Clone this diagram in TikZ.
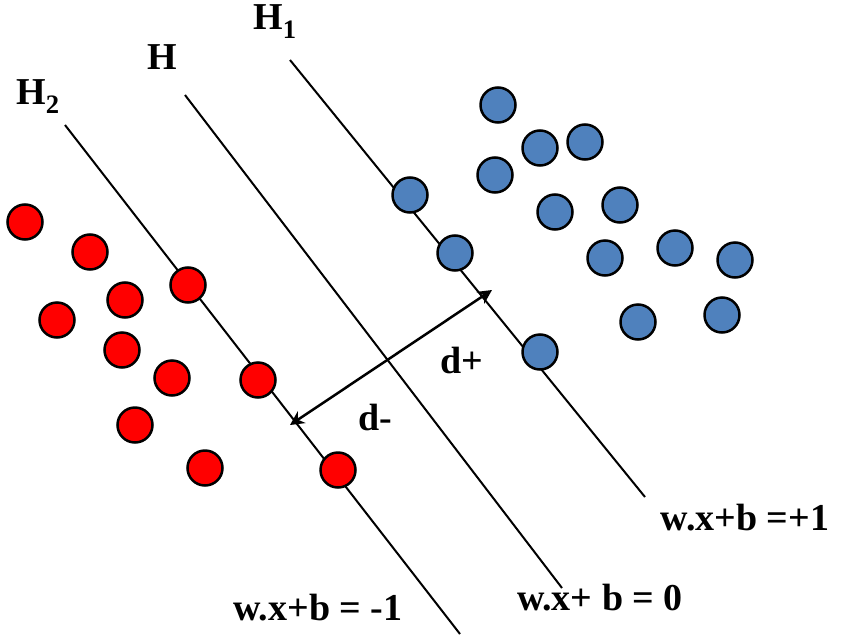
\documentclass[tikz,border=0pt]{standalone}
\usepackage{fontspec}
\setmainfont{Liberation Serif}
\usetikzlibrary{arrows.meta}
\definecolor{svblue}{RGB}{79,129,189}
\tikzset{
  red dot/.style={circle,draw=black,line width=2.5pt,fill=red,minimum size=35pt,inner sep=0pt},
  blue dot/.style={circle,draw=black,line width=2.5pt,fill=svblue,minimum size=35pt,inner sep=0pt},
  lbl/.style={font=\bfseries\fontsize{38}{40}\selectfont,inner sep=0pt}
}
\begin{document}
\begin{tikzpicture}[x=1pt,y=-1pt]
  \useasboundingbox (0,0) rectangle (850,634);
  % hyperplanes
  \coordinate (h2a) at (65,125);  \coordinate (h2b) at (460,634);
  \coordinate (ha) at (185,95);   \coordinate (hb) at (562,588);
  \coordinate (h1a) at (290,60);  \coordinate (h1b) at (645,497);
  \draw[line width=2pt] (h2a) -- (h2b);
  \draw[line width=2pt] (ha) -- (hb);
  \draw[line width=2pt] (h1a) -- (h1b);
  % red class
  \foreach \x/\y [count=\i] in {25/222,90/252,188/285,125/300,57/320,122/350,172/378,258/380,135/425,205/468,338/470}
    \node[red dot] (r\i) at (\x,\y) {};
  % blue class
  \foreach \x/\y [count=\i] in {498/105,540/148,585/142,495/175,410/195,555/212,620/205,455/253,605/258,675/248,735/260,638/322,722/315,540/352}
    \node[blue dot] (b\i) at (\x,\y) {};
  % margin
  \coordinate (dm) at (290,425);
  \coordinate (dp) at (492,290);
  \draw[{Stealth[length=14pt,width=14pt]}-{Stealth[length=14pt,width=14pt]},line width=2.5pt] (dm) -- (dp);
  \node[lbl] (dplus) at (462,360) {d+};
  \node[lbl] (dminus) at (375,417) {d-};
  \node[lbl] (lh2) at (38,97) {H\textsubscript{2}};
  \node[lbl] (lh) at (162,57) {H};
  \node[lbl] (lh1) at (275,22) {H\textsubscript{1}};
  \node[lbl] (eq1) at (745,518) {w.x+b =+1};
  \node[lbl] (eq0) at (600,598) {w.x+ b = 0};
  \node[lbl] (eqm) at (318,608) {w.x+b = -1};
\end{tikzpicture}
\end{document}
